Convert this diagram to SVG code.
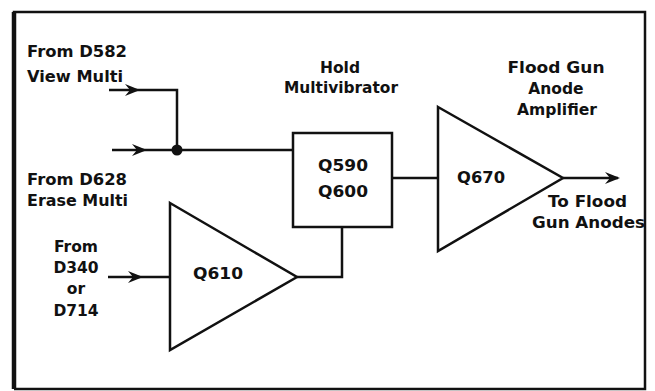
<svg xmlns="http://www.w3.org/2000/svg" xmlns:xlink="http://www.w3.org/1999/xlink" width="655" height="391" viewBox="0 0 655 391">
<style>
.t{font-family:"DejaVu Sans","Liberation Sans",sans-serif;font-weight:bold;font-size:15.5px;fill:#111}
.ln{fill:none;stroke:#111;stroke-width:2.5;stroke-linejoin:miter}
.sh{fill:#fff;stroke:#111;stroke-width:2.5;stroke-linejoin:miter}
</style>
<defs>
<path id="ah" d="M0,0 L-15,-6 L-10,0 L-15,6 Z" fill="#111"/>
</defs>
<rect width="655" height="391" fill="#fff"/>
<g id="frame">
<path d="M14,389 L14,12 L645,12 L645,389 L14,389" fill="none" stroke="#111" stroke-width="2.5"/>
<line x1="14" y1="12" x2="14" y2="389" stroke="#111" stroke-width="4.5"/>
</g>
<g id="connectors">
<polyline class="ln" points="109,90 177,90 177,150"/>
<line class="ln" x1="112" y1="150" x2="293" y2="150"/>
<circle cx="177" cy="150" r="5.5" fill="#111"/>
<use xlink:href="#ah" x="140" y="90"/>
<use xlink:href="#ah" x="147" y="150"/>
<line class="ln" x1="108" y1="277" x2="170" y2="277"/>
<use xlink:href="#ah" x="143" y="277"/>
<polyline class="ln" points="297,277 342,277 342,227"/>
<line class="ln" x1="392" y1="178" x2="438" y2="178"/>
<line class="ln" x1="563" y1="178" x2="618" y2="178"/>
<use xlink:href="#ah" x="620" y="178"/>
</g>
<g id="labels-inputs">
<text class="t" x="27" y="57" textLength="100" lengthAdjust="spacingAndGlyphs">From D582</text>
<text class="t" x="27" y="82" textLength="96" lengthAdjust="spacingAndGlyphs">View Multi</text>
<text class="t" x="27" y="185" textLength="100" lengthAdjust="spacingAndGlyphs">From D628</text>
<text class="t" x="27" y="206" textLength="101" lengthAdjust="spacingAndGlyphs">Erase Multi</text>
<text class="t" x="76" y="252" text-anchor="middle">From</text>
<text class="t" x="76" y="273" text-anchor="middle">D340</text>
<text class="t" x="76" y="294" text-anchor="middle">or</text>
<text class="t" x="76" y="316" text-anchor="middle">D714</text>
</g>
<g id="hold">
<rect class="sh" x="293" y="133" width="99" height="94"/>
<text class="t" x="340" y="73" text-anchor="middle">Hold</text>
<text class="t" x="341" y="93" text-anchor="middle" textLength="114" lengthAdjust="spacingAndGlyphs">Multivibrator</text>
<text class="t" x="343" y="171" text-anchor="middle" textLength="50" lengthAdjust="spacingAndGlyphs">Q590</text>
<text class="t" x="343" y="197" text-anchor="middle" textLength="50" lengthAdjust="spacingAndGlyphs">Q600</text>
</g>
<g id="q610">
<polygon class="sh" points="170,203 297,277 170,350"/>
<text class="t" x="193" y="279" textLength="50" lengthAdjust="spacingAndGlyphs">Q610</text>
</g>
<g id="q670">
<polygon class="sh" points="438,107 563,178 438,251"/>
<text class="t" x="457" y="183" textLength="48" lengthAdjust="spacingAndGlyphs">Q670</text>
<text class="t" x="556" y="73" text-anchor="middle" textLength="97" lengthAdjust="spacingAndGlyphs">Flood Gun</text>
<text class="t" x="556" y="94" text-anchor="middle">Anode</text>
<text class="t" x="557" y="115" text-anchor="middle" textLength="80" lengthAdjust="spacingAndGlyphs">Amplifier</text>
</g>
<g id="output-label">
<text class="t" x="548" y="207" textLength="79" lengthAdjust="spacingAndGlyphs">To Flood</text>
<text class="t" x="532" y="228" textLength="113" lengthAdjust="spacingAndGlyphs">Gun Anodes</text>
</g>
</svg>
